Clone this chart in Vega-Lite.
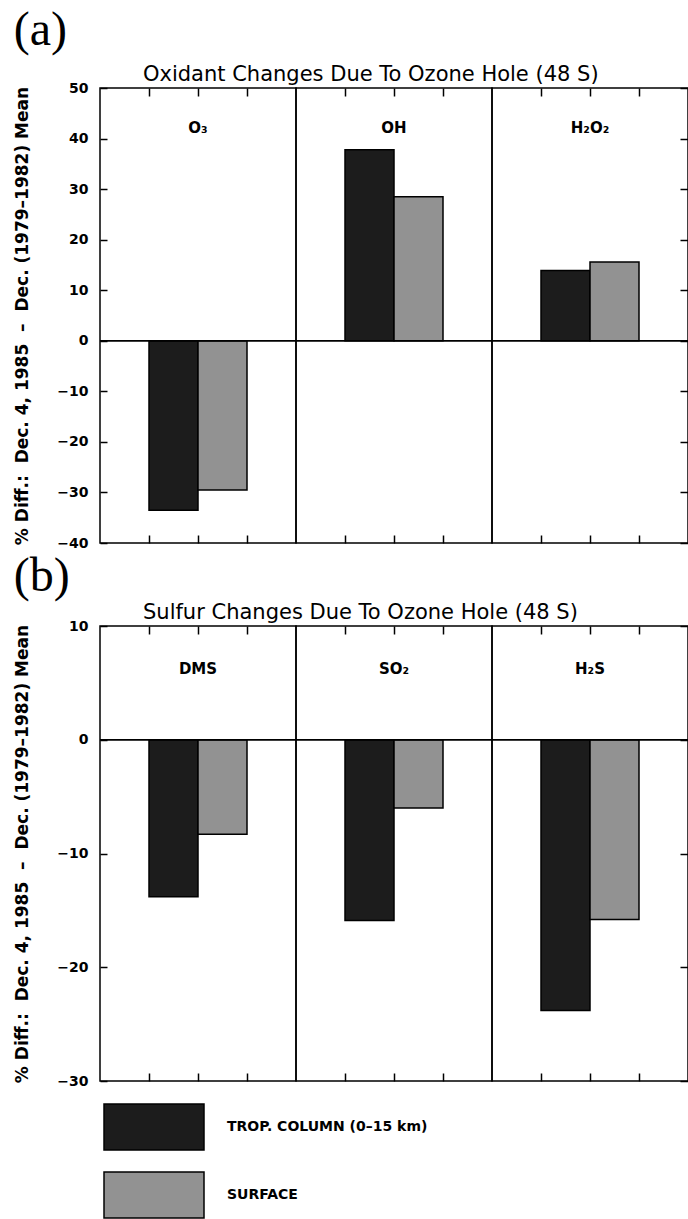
{
  "$schema": "https://vega.github.io/schema/vega-lite/v6.json",
  "background": "white",
  "padding": {"left": 13, "top": 7, "right": 0, "bottom": 0},
  "datasets": {
    "oxidant": [
      {"species": "O₃", "series": "TROP. COLUMN (0–15 km)", "value": -33.5},
      {"species": "O₃", "series": "SURFACE", "value": -29.5},
      {"species": "OH", "series": "TROP. COLUMN (0–15 km)", "value": 37.8},
      {"species": "OH", "series": "SURFACE", "value": 28.5},
      {"species": "H₂O₂", "series": "TROP. COLUMN (0–15 km)", "value": 13.9},
      {"species": "H₂O₂", "series": "SURFACE", "value": 15.6}
    ],
    "sulfur": [
      {"species": "DMS", "series": "TROP. COLUMN (0–15 km)", "value": -13.8},
      {"species": "DMS", "series": "SURFACE", "value": -8.3},
      {"species": "SO₂", "series": "TROP. COLUMN (0–15 km)", "value": -15.9},
      {"species": "SO₂", "series": "SURFACE", "value": -6.0},
      {"species": "H₂S", "series": "TROP. COLUMN (0–15 km)", "value": -23.8},
      {"species": "H₂S", "series": "SURFACE", "value": -15.8}
    ]
  },
  "spacing": 3,
  "vconcat": [
    {
      "title": {"text": "(a)", "anchor": "start", "frame": "bounds", "font": "Liberation Serif", "fontSize": 48, "fontWeight": "normal", "color": "black", "offset": 9},
      "vconcat": [
        {
          "title": {"text": "Oxidant Changes Due To Ozone Hole (48 S)", "anchor": "start", "frame": "group", "dx": 43, "font": "DejaVu Sans", "fontSize": 21, "fontWeight": "normal", "color": "black", "offset": -4},
          "data": {"name": "oxidant"},
          "spacing": 0,
          "bounds": "flush",
          "facet": {"column": {"field": "species", "type": "nominal", "sort": ["O₃", "OH", "H₂O₂"], "header": {"labels": false, "title": null}}},
          "spec": {
            "width": 196,
            "height": 455,
            "layer": [
              {
                "mark": {"type": "bar", "stroke": "black", "strokeWidth": 1.5},
                "encoding": {
                  "x": {"field": "series", "type": "nominal", "sort": ["TROP. COLUMN (0–15 km)", "SURFACE"], "scale": {"paddingInner": 0, "paddingOuter": 1},
                        "axis": {"orient": "bottom", "tickBand": "extent", "offset": -8, "tickSize": 8, "tickWidth": 1.5, "tickColor": "black", "labels": false, "domain": false, "title": null}},
                  "y": {"field": "value", "type": "quantitative", "scale": {"domain": [-40, 50], "nice": false},
                        "axis": {"orient": "left", "values": [-40, -30, -20, -10, 0, 10, 20, 30, 40, 50], "offset": -7, "tickSize": 7, "tickWidth": 1.5, "tickColor": "black", "domain": false, "grid": false,
                                 "labelPadding": 12, "labelFont": "DejaVu Sans", "labelFontSize": 14, "labelFontWeight": "bold", "labelColor": "black",
                                 "title": "% Diff.:\u00a0 Dec. 4, 1985\u00a0 –\u00a0 Dec. (1979–1982) Mean", "titleFont": "DejaVu Sans", "titleFontSize": 17, "titleFontWeight": "bold", "titleColor": "black", "titlePadding": 25}},
                  "fill": {"field": "series", "type": "nominal", "sort": ["TROP. COLUMN (0–15 km)", "SURFACE"], "scale": {"domain": ["TROP. COLUMN (0–15 km)", "SURFACE"], "range": ["#1c1c1c", "#929292"]},
                           "legend": {"orient": "none", "legendX": 3, "legendY": 1015, "title": null, "symbolType": "M-1,-0.46H1V0.46H-1Z", "symbolSize": 10000, "symbolStrokeColor": "black", "symbolStrokeWidth": 1.5,
                                      "clipHeight": 48, "labelFont": "DejaVu Sans", "labelFontSize": 14, "labelFontWeight": "bold", "labelColor": "black", "labelOffset": 22, "labelLimit": 400, "rowPadding": 20, "direction": "vertical"}}
                }
              },
              {
                "mark": {"type": "rule", "color": "black", "strokeWidth": 1.5},
                "encoding": {
                  "y": {"datum": 0, "type": "quantitative", "axis": {"orient": "right", "values": [-40, -30, -20, -10, 0, 10, 20, 30, 40, 50], "offset": -8, "tickSize": 8, "tickWidth": 1.5, "tickColor": "black", "labels": false, "domain": false, "grid": false, "title": null}}
                }
              },
              {
                "transform": [{"filter": "datum.series == 'SURFACE'"}],
                "mark": {"type": "text", "font": "DejaVu Sans", "fontSize": 15, "fontWeight": "bold", "color": "black", "align": "center", "baseline": "middle"},
                "encoding": {
                  "x": {"field": "series", "type": "nominal", "sort": ["TROP. COLUMN (0–15 km)", "SURFACE"], "bandPosition": 0,
                        "axis": {"orient": "top", "tickBand": "extent", "offset": -8, "tickSize": 8, "tickWidth": 1.5, "tickColor": "black", "labels": false, "domain": false, "title": null}},
                  "y": {"datum": 42, "type": "quantitative", "axis": null},
                  "text": {"field": "species"}
                }
              }
            ],
            "resolve": {"axis": {"x": "independent", "y": "independent"}}
          }
        }
      ]
    },
    {
      "title": {"text": "(b)", "anchor": "start", "frame": "bounds", "font": "Liberation Serif", "fontSize": 48, "fontWeight": "normal", "color": "black", "offset": 1},
      "vconcat": [
        {
          "title": {"text": "Sulfur Changes Due To Ozone Hole (48 S)", "anchor": "start", "frame": "group", "dx": 43, "font": "DejaVu Sans", "fontSize": 21, "fontWeight": "normal", "color": "black", "offset": -4},
          "data": {"name": "sulfur"},
          "spacing": 0,
          "bounds": "flush",
          "facet": {"column": {"field": "species", "type": "nominal", "sort": ["DMS", "SO₂", "H₂S"], "header": {"labels": false, "title": null}}},
          "spec": {
            "width": 196,
            "height": 455,
            "layer": [
              {
                "mark": {"type": "bar", "stroke": "black", "strokeWidth": 1.5},
                "encoding": {
                  "x": {"field": "series", "type": "nominal", "sort": ["TROP. COLUMN (0–15 km)", "SURFACE"], "scale": {"paddingInner": 0, "paddingOuter": 1},
                        "axis": {"orient": "bottom", "tickBand": "extent", "offset": -8, "tickSize": 8, "tickWidth": 1.5, "tickColor": "black", "labels": false, "domain": false, "title": null}},
                  "y": {"field": "value", "type": "quantitative", "scale": {"domain": [-30, 10], "nice": false},
                        "axis": {"orient": "left", "values": [-30, -20, -10, 0, 10], "offset": -7, "tickSize": 7, "tickWidth": 1.5, "tickColor": "black", "domain": false, "grid": false,
                                 "labelPadding": 12, "labelFont": "DejaVu Sans", "labelFontSize": 14, "labelFontWeight": "bold", "labelColor": "black",
                                 "title": "% Diff.:\u00a0 Dec. 4, 1985\u00a0 –\u00a0 Dec. (1979–1982) Mean", "titleFont": "DejaVu Sans", "titleFontSize": 17, "titleFontWeight": "bold", "titleColor": "black", "titlePadding": 25}},
                  "fill": {"field": "series", "type": "nominal", "sort": ["TROP. COLUMN (0–15 km)", "SURFACE"], "scale": {"domain": ["TROP. COLUMN (0–15 km)", "SURFACE"], "range": ["#1c1c1c", "#929292"]}}
                }
              },
              {
                "mark": {"type": "rule", "color": "black", "strokeWidth": 1.5},
                "encoding": {
                  "y": {"datum": 0, "type": "quantitative", "axis": {"orient": "right", "values": [-30, -20, -10, 0, 10], "offset": -8, "tickSize": 8, "tickWidth": 1.5, "tickColor": "black", "labels": false, "domain": false, "grid": false, "title": null}}
                }
              },
              {
                "transform": [{"filter": "datum.series == 'SURFACE'"}],
                "mark": {"type": "text", "font": "DejaVu Sans", "fontSize": 15, "fontWeight": "bold", "color": "black", "align": "center", "baseline": "middle"},
                "encoding": {
                  "x": {"field": "series", "type": "nominal", "sort": ["TROP. COLUMN (0–15 km)", "SURFACE"], "bandPosition": 0,
                        "axis": {"orient": "top", "tickBand": "extent", "offset": -8, "tickSize": 8, "tickWidth": 1.5, "tickColor": "black", "labels": false, "domain": false, "title": null}},
                  "y": {"datum": 6.2, "type": "quantitative", "axis": null},
                  "text": {"field": "species"}
                }
              }
            ],
            "resolve": {"axis": {"x": "independent", "y": "independent"}}
          }
        }
      ]
    }
  ],
  "config": {
    "view": {"stroke": "black", "strokeWidth": 1.5},
    "axis": {"tickColor": "black"}
  }
}
